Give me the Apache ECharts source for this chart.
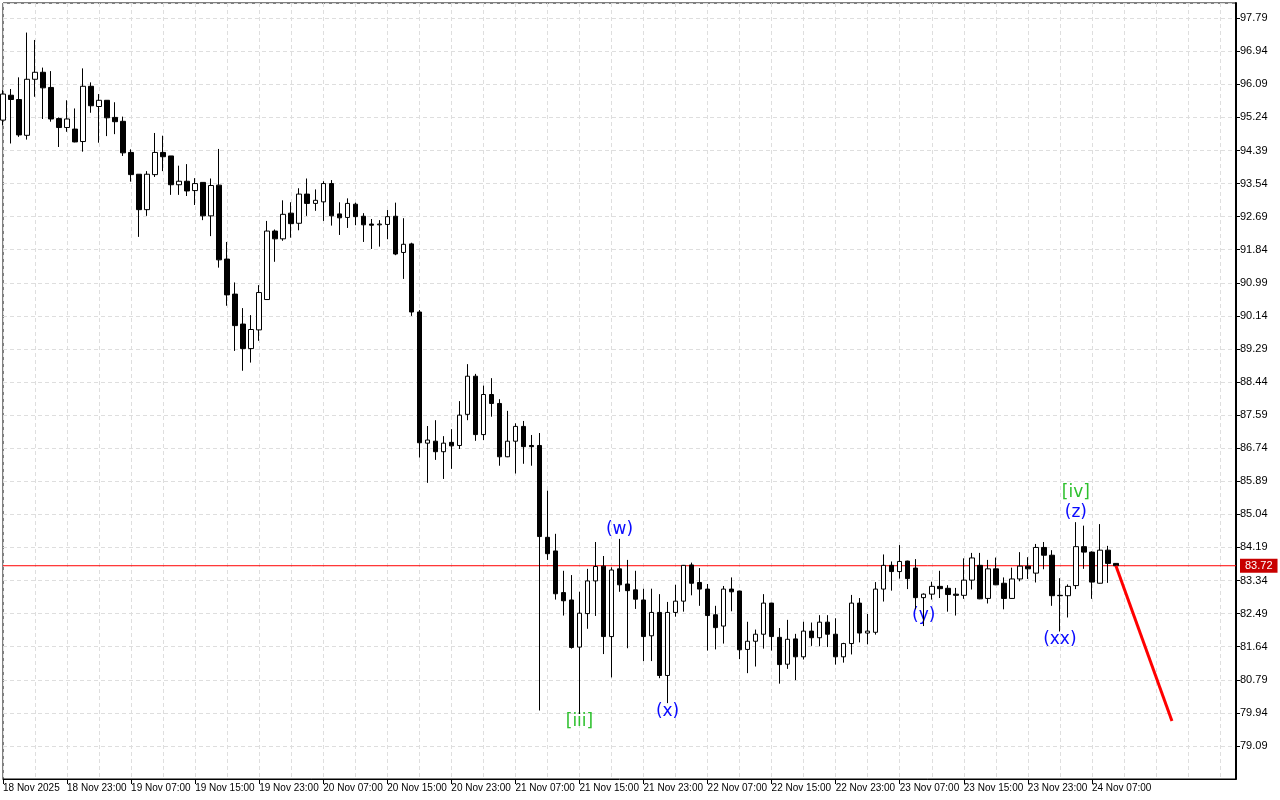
<!DOCTYPE html>
<html>
<head>
<meta charset="utf-8">
<title>Chart</title>
<script src="https://cdn.jsdelivr.net/npm/echarts@6/dist/echarts.min.js"></script>
<style>
  html, body { margin: 0; padding: 0; background: #fff; }
  #chart { width: 1280px; height: 800px; }
</style>
</head>
<body>
<div id="chart"></div>
<script>
// hourly bars, first bar = 18 Nov 2025 15:00
const opens = [
  95.17, 95.81, 95.70, 94.78, 96.22, 96.40, 96.01, 95.21, 94.98, 94.94,
  94.62, 96.04, 95.52, 95.68, 95.24, 95.14, 94.34, 93.78, 92.87, 93.77,
  94.34, 94.25, 93.51, 93.60, 93.36, 93.57, 92.71, 93.50, 91.60, 90.70,
  89.93, 89.30, 89.78, 90.56, 92.32, 92.12, 92.78, 92.52, 93.27, 93.03,
  93.07, 93.54, 92.76, 92.67, 93.01, 92.70, 92.50, 92.48, 92.49, 92.70,
  91.77, 91.99, 90.24, 86.87, 86.92, 86.65, 86.89, 86.81, 87.61, 88.59,
  87.09, 88.12, 87.89, 86.52, 86.92, 87.30, 86.81, 86.81, 84.45, 84.10,
  83.03, 82.84, 81.63, 82.49, 83.33, 83.71, 81.90, 83.64, 83.25, 83.10,
  82.84, 81.92, 82.52, 80.90, 82.52, 82.81, 83.74, 83.29, 83.12, 82.46,
  82.17, 83.12, 83.07, 81.57, 81.78, 81.96, 82.76, 81.88, 81.19, 81.84,
  81.38, 82.04, 81.87, 82.27, 81.96, 81.38, 81.72, 82.76, 81.99, 82.01,
  83.12, 83.73, 83.57, 83.84, 83.66, 82.90, 82.99, 83.19, 83.14, 82.99,
  82.96, 83.35, 83.73, 82.88, 83.64, 83.27, 82.88, 83.38, 83.71, 83.53,
  84.19, 83.99, 82.96, 82.95, 83.21, 84.21, 84.07, 83.27, 84.12, 83.78
]
const highs = [
  95.94, 95.97, 96.27, 97.42, 97.23, 96.52, 96.43, 95.24, 95.68, 95.47,
  96.50, 96.14, 95.84, 95.68, 95.63, 95.26, 94.42, 93.78, 93.86, 94.84,
  94.77, 94.25, 94.00, 94.04, 93.68, 93.57, 93.67, 94.43, 92.04, 91.00,
  90.34, 90.16, 90.93, 92.58, 92.36, 93.11, 93.06, 93.42, 93.67, 93.39,
  93.60, 93.63, 93.06, 93.16, 93.05, 92.78, 92.63, 92.60, 92.86, 93.05,
  92.65, 92.02, 90.29, 87.31, 87.46, 87.05, 87.23, 87.95, 88.90, 88.65,
  88.35, 88.54, 88.00, 87.70, 87.38, 87.44, 87.08, 87.13, 85.65, 84.54,
  83.59, 83.48, 83.05, 83.64, 84.33, 83.97, 83.68, 84.41, 83.87, 83.59,
  83.13, 83.13, 82.99, 82.79, 83.23, 83.74, 83.80, 83.66, 83.25, 82.69,
  83.20, 83.42, 83.08, 82.28, 82.08, 82.99, 82.77, 82.12, 82.33, 81.97,
  82.28, 82.26, 82.45, 82.45, 82.37, 81.74, 82.97, 82.89, 82.48, 83.30,
  84.01, 83.83, 84.25, 83.85, 83.89, 83.01, 83.31, 83.59, 83.22, 83.15,
  83.91, 84.05, 84.05, 83.87, 83.93, 83.42, 83.67, 84.07, 83.94, 84.28,
  84.33, 84.12, 83.40, 83.24, 84.84, 84.75, 84.09, 84.79, 84.23, 83.79
]
const lows = [
  95.04, 94.57, 94.74, 94.67, 95.77, 95.20, 95.13, 94.48, 94.87, 94.60,
  94.36, 95.36, 94.59, 94.76, 94.81, 94.25, 93.59, 92.17, 92.71, 93.71,
  93.86, 93.25, 93.25, 93.22, 92.99, 92.60, 92.19, 91.38, 90.40, 89.24,
  88.73, 88.94, 89.50, 90.55, 91.53, 92.07, 92.15, 92.34, 92.71, 92.84,
  92.58, 92.46, 92.22, 92.40, 92.47, 92.04, 91.86, 91.92, 92.11, 91.70,
  91.09, 90.14, 86.50, 85.85, 86.44, 85.95, 86.21, 86.72, 87.46, 86.93,
  86.95, 87.55, 86.29, 86.51, 86.09, 86.34, 86.29, 80.00, 83.87, 82.85,
  82.44, 81.59, 79.91, 82.10, 82.43, 81.45, 80.85, 83.05, 81.60, 82.61,
  81.27, 81.27, 80.83, 80.19, 82.41, 82.54, 82.96, 82.69, 81.54, 81.57,
  81.72, 82.55, 81.32, 80.96, 81.13, 81.59, 81.54, 80.69, 81.07, 80.78,
  81.31, 81.66, 81.65, 81.63, 81.18, 81.23, 81.44, 81.75, 81.70, 81.95,
  82.80, 83.08, 83.39, 83.12, 82.60, 82.17, 82.85, 82.89, 82.54, 82.44,
  82.87, 83.11, 82.86, 82.75, 83.22, 82.60, 82.87, 83.32, 83.38, 83.29,
  83.63, 82.69, 82.03, 82.39, 83.12, 83.64, 82.87, 83.26, 83.28, 83.70
]
const closes = [
  95.84, 95.70, 94.79, 96.22, 96.40, 96.00, 95.20, 94.98, 95.20, 94.61,
  96.04, 95.54, 95.68, 95.23, 95.13, 94.33, 93.77, 92.87, 93.78, 94.34,
  94.23, 93.51, 93.60, 93.35, 93.54, 92.71, 93.49, 91.58, 90.68, 89.89,
  89.30, 89.79, 90.74, 92.32, 92.12, 92.75, 92.51, 93.27, 93.03, 93.11,
  93.54, 92.71, 92.66, 93.03, 92.69, 92.48, 92.47, 92.50, 92.69, 91.73,
  91.98, 90.24, 86.88, 86.95, 86.65, 86.87, 86.80, 87.59, 88.59, 87.09,
  88.12, 87.89, 86.52, 86.92, 87.30, 86.78, 86.78, 84.47, 84.03, 83.00,
  82.82, 81.62, 82.50, 83.33, 83.70, 81.90, 83.61, 83.23, 83.08, 82.86,
  81.90, 82.52, 80.90, 82.52, 82.81, 83.73, 83.27, 83.12, 82.44, 82.13,
  83.12, 83.05, 81.56, 81.78, 81.96, 82.76, 81.90, 81.18, 81.83, 81.38,
  82.04, 81.87, 82.27, 81.96, 81.38, 81.72, 82.76, 81.99, 82.04, 83.12,
  83.73, 83.57, 83.83, 83.39, 82.90, 82.99, 83.19, 83.13, 82.98, 82.96,
  83.35, 83.92, 82.87, 83.64, 83.23, 82.88, 83.38, 83.71, 83.64, 84.19,
  83.99, 82.95, 82.95, 83.19, 84.21, 84.07, 83.30, 84.12, 83.78, 83.72
]
const timeLabels = [
  '18 Nov 2025', '18 Nov 23:00', '19 Nov 07:00', '19 Nov 15:00', '19 Nov 23:00',
  '20 Nov 07:00', '20 Nov 15:00', '20 Nov 23:00', '21 Nov 07:00', '21 Nov 15:00',
  '21 Nov 23:00', '22 Nov 07:00', '22 Nov 15:00', '22 Nov 23:00', '23 Nov 07:00',
  '23 Nov 15:00', '23 Nov 23:00', '24 Nov 07:00'
]
const lastPrice = 83.72
// wave marks: bar index, price level, text
const waveIdx = [72, 77, 83, 115, 134, 134, 132]
const waveLevel = [79.71, 84.64, 79.96, 82.43, 85.61, 85.08, 81.81]
const waveText = ['[iii]', '(w)', '(x)', '(y)', '[iv]', '(z)', '(xx)']
const waveColor = ['#2ec02e', '#0a0aff', '#0a0aff', '#0a0aff', '#2ec02e', '#0a0aff', '#0a0aff']
// projected move
const forecastIdx = [139, 146]
const forecastVal = [83.72, 79.73]

const slotCount = 155
const labelStep = 8

const chart = echarts.init(document.getElementById('chart'))
const slots = []
for (let i = 0; i < slotCount; i++) slots.push(String(i))
const candles = opens.map((o, i) => [o, closes[i], lows[i], highs[i]])
const waves = waveText.map((t, i) => ({
  value: [waveIdx[i], waveLevel[i]],
  name: t,
  label: { color: waveColor[i] }
}))
const isLabelSlot = i => i % labelStep === 0 && i / labelStep < timeLabels.length
const gridLine = { color: '#dedede', width: 1, type: [4, 3] }

const option = {
  animation: false,
  grid: {
    left: 2,
    right: 44,
    top: 3,
    bottom: 21,
    show: true,
    borderColor: '#000',
    borderWidth: 1
  },
  xAxis: {
    type: 'category',
    data: slots,
    boundaryGap: false,
    axisLine: { lineStyle: { color: '#000', width: 1 } },
    axisTick: {
      interval: isLabelSlot,
      length: 5,
      lineStyle: { color: '#000' }
    },
    axisLabel: {
      interval: isLabelSlot,
      formatter: (v, i) => timeLabels[i / labelStep] || '',
      align: 'left',
      margin: 4,
      color: '#000',
      fontSize: 10,
      fontFamily: 'Liberation Sans'
    },
    splitLine: {
      show: true,
      interval: i => i % 4 === 0,
      lineStyle: gridLine
    }
  },
  yAxis: {
    type: 'value',
    position: 'right',
    min: 78.24,
    max: 98.18,
    interval: 0.85,
    axisLine: { show: true, lineStyle: { color: '#000', width: 2 } },
    axisTick: { show: true, length: 4, lineStyle: { color: '#000' } },
    axisLabel: {
      showMinLabel: false,
      showMaxLabel: false,
      formatter: v => v.toFixed(2),
      margin: 4,
      color: '#000',
      fontSize: 11,
      fontFamily: 'Liberation Sans'
    },
    splitLine: { show: true, lineStyle: gridLine }
  },
  series: [
    {
      // current price line across the whole plot
      type: 'line',
      data: [[0, lastPrice], [slotCount - 1, lastPrice]],
      symbol: 'none',
      silent: true,
      lineStyle: { color: '#ff0000', width: 1 },
      endLabel: {
        show: true,
        formatter: () => lastPrice.toFixed(2),
        distance: 4,
        color: '#fff',
        backgroundColor: '#c80000',
        padding: [2, 5, 1, 5],
        fontSize: 11,
        fontFamily: 'Liberation Sans'
      },
      z: 1
    },
    {
      type: 'candlestick',
      data: candles,
      barWidth: 5,
      itemStyle: {
        color: '#fff',
        color0: '#000',
        borderColor: '#000',
        borderColor0: '#000',
        borderWidth: 1
      },
      z: 2
    },
    {
      type: 'line',
      data: forecastIdx.map((x, i) => [x, forecastVal[i]]),
      symbol: 'none',
      lineStyle: { color: '#ff0000', width: 3 },
      z: 5
    },
    {
      type: 'scatter',
      data: waves,
      symbolSize: 0,
      itemStyle: { opacity: 1 },
      label: {
        show: true,
        position: 'inside',
        formatter: p => p.name,
        fontSize: 17,
        fontFamily: 'DejaVu Sans'
      },
      z: 1
    }
  ]
}
chart.setOption(option, true)
</script>
</body>
</html>
